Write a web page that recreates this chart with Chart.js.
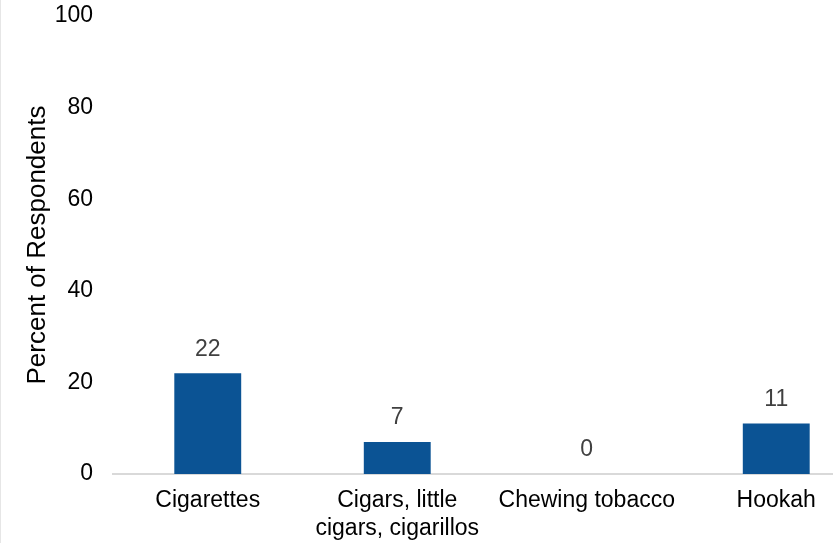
<!DOCTYPE html>
<html>
<head>
<meta charset="utf-8">
<script src="https://cdn.jsdelivr.net/npm/chart.js@4"></script>
<style>
  html, body { margin: 0; padding: 0; background: #fff; overflow: hidden; }
  #wrap { width: 900px; height: 543px; position: relative; }
  #frame { position: absolute; left: 0; top: 0; width: 1px; height: 543px; background: #e6e6e6; }
</style>
</head>
<body>
<div id="wrap">
  <canvas id="chartCanvas" width="900" height="543"></canvas>
  <div id="frame"></div>
</div>
<script>
const categories = ['Cigarettes', ['Cigars, little', 'cigars, cigarillos'], 'Chewing tobacco', 'Hookah'];
const percentValues = [22, 7, 0, 11];
const yTicks = [0, 20, 40, 60, 80, 100];

const FONT = "'Liberation Sans', Arial, sans-serif";

// draws the value above each bar
const valueLabels = {
    id: 'valueLabels',
    afterDatasetsDraw(chart) {
        const ctx = chart.ctx;
        const meta = chart.getDatasetMeta(0);
        ctx.save();
        ctx.font = '23px ' + FONT;
        ctx.fillStyle = '#404040';
        ctx.textAlign = 'center';
        ctx.textBaseline = 'middle';
        meta.data.forEach((bar, i) => {
            ctx.fillText(String(percentValues[i]), bar.x, bar.y - 24);
        });
        ctx.restore();
    }
};

const ctx = document.getElementById('chartCanvas').getContext('2d');
new Chart(ctx, {
    type: 'bar',
    data: {
        labels: categories,
        datasets: [{
            data: percentValues,
            backgroundColor: '#0b5394',
            borderWidth: 0,
            categoryPercentage: 1,
            barPercentage: 0.353
        }]
    },
    options: {
        responsive: false,
        animation: false,
        layout: { padding: { top: 16, bottom: 0, left: 0, right: 29 } },
        plugins: { legend: { display: false }, tooltip: { enabled: false } },
        scales: {
            x: {
                grid: { display: false, drawTicks: false },
                border: { display: true, color: '#d9d9d9', width: 2 },
                ticks: {
                    color: '#000',
                    font: { size: 23, family: FONT, lineHeight: 1.25 },
                    padding: 12,
                    maxRotation: 0,
                    autoSkip: false
                },
                afterFit(scale) { scale.height = 69; }
            },
            y: {
                min: 0,
                max: 100,
                afterBuildTicks(scale) { scale.ticks = yTicks.map(v => ({ value: v })); },
                grid: { display: false, drawTicks: false },
                border: { display: false },
                ticks: {
                    color: '#000',
                    font: { size: 23, family: FONT },
                    padding: 20
                },
                title: {
                    display: true,
                    text: 'Percent of Respondents',
                    color: '#000',
                    font: { size: 26, family: FONT },
                    padding: { top: 22, bottom: 0 }
                },
                afterFit(scale) {
                    scale.width = 113;
                    scale.paddingTop = 0;
                    scale.paddingBottom = 0;
                }
            }
        }
    },
    plugins: [valueLabels]
});
</script>
</body>
</html>
